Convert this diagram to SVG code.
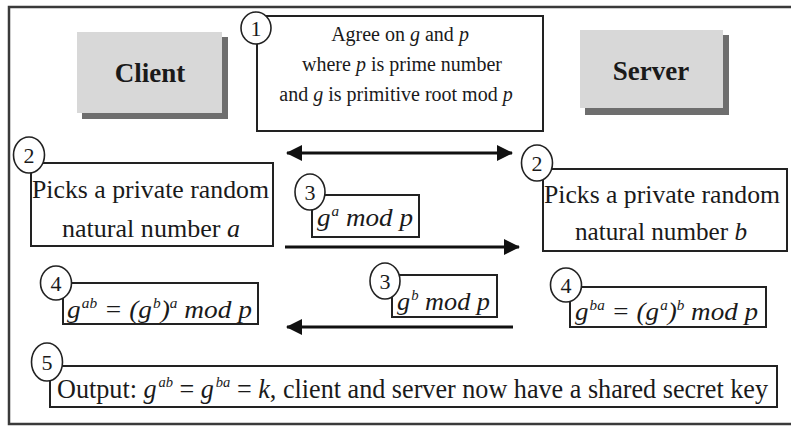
<svg xmlns="http://www.w3.org/2000/svg" width="791" height="427" viewBox="0 0 791 427">
<style>
.frame{fill:none;stroke:#3a3a3a;stroke-width:2.5}
.box{fill:#fff;stroke:#222;stroke-width:2}
.actor{fill:#d8d8d8}
.shadow{fill:#6e6e6e}
.num{fill:#fff;stroke:#222;stroke-width:1.6}
.t{font-family:"Liberation Serif","Times New Roman",serif;fill:#1a1a1a}
.lbl{font-size:27px;font-weight:bold;text-anchor:middle}
.n{font-size:22px;text-anchor:middle}
.c{font-size:20px;text-anchor:middle}
.m{font-size:25px}
.i{font-style:italic}
.arr{stroke:#111;stroke-width:3.2;fill:none}
</style>
<defs>
<marker id="ah" markerUnits="userSpaceOnUse" markerWidth="18" markerHeight="16" refX="15" refY="8" orient="auto-start-reverse">
<path d="M0,0 L16,8 L0,16 Z" fill="#111"/>
</marker>
</defs>
<rect class="frame" x="9" y="7" width="800" height="417"/>

<g id="client">
<rect class="shadow" x="82" y="37" width="146" height="82"/>
<rect class="actor" x="77" y="32" width="145" height="81"/>
<text class="t lbl" x="150" y="82">Client</text>
</g>

<g id="server">
<rect class="shadow" x="585" y="35" width="144" height="80"/>
<rect class="actor" x="580" y="30" width="143" height="78"/>
<text class="t lbl" x="651" y="80">Server</text>
</g>

<g id="step1">
<rect class="box" x="257" y="16" width="286" height="115"/>
<ellipse class="num" cx="256" cy="28" rx="15" ry="16"/>
<text class="t n" x="256" y="36">1</text>
<text class="t c" x="400" y="41">Agree on <tspan class="i">g</tspan> and <tspan class="i">p</tspan></text>
<text class="t c" x="402" y="71">where <tspan class="i">p</tspan> is prime number</text>
<text class="t c" x="396" y="101">and <tspan class="i">g</tspan> is primitive root mod <tspan class="i">p</tspan></text>
</g>

<g id="step2-client">
<rect class="box" x="31" y="163" width="242" height="83"/>
<ellipse class="num" cx="29" cy="155" rx="15.5" ry="18"/>
<text class="t n" x="29" y="163">2</text>
<text class="t m" x="32" y="198" textLength="237" lengthAdjust="spacingAndGlyphs">Picks a private random</text>
<text class="t m" x="62" y="237" textLength="178" lengthAdjust="spacingAndGlyphs">natural number <tspan class="i">a</tspan></text>
</g>

<g id="step2-server">
<rect class="box" x="543" y="169" width="244" height="82"/>
<ellipse class="num" cx="537" cy="163" rx="15.5" ry="18"/>
<text class="t n" x="537" y="171">2</text>
<text class="t m" x="544" y="203" textLength="236" lengthAdjust="spacingAndGlyphs">Picks a private random</text>
<text class="t m" x="575" y="240" textLength="172" lengthAdjust="spacingAndGlyphs">natural number <tspan class="i">b</tspan></text>
</g>

<g id="step3-client">
<rect class="box" x="312" y="195" width="107" height="42"/>
<ellipse class="num" cx="310" cy="192" rx="15" ry="18"/>
<text class="t n" x="310" y="200">3</text>
<text class="t m i" x="317" y="226" textLength="96" lengthAdjust="spacingAndGlyphs">g<tspan dx="1" dy="-10" style="font-size:14px">a</tspan><tspan dy="10"> mod p</tspan></text>
</g>

<g id="step3-server">
<rect class="box" x="392" y="275" width="105" height="42"/>
<ellipse class="num" cx="385" cy="281" rx="15" ry="18"/>
<text class="t n" x="385" y="289">3</text>
<text class="t m i" x="397" y="310" textLength="93" lengthAdjust="spacingAndGlyphs">g<tspan dx="1" dy="-10" style="font-size:14px">b</tspan><tspan dy="10"> mod p</tspan></text>
</g>

<g id="step4-client">
<rect class="box" x="63" y="283" width="195" height="41"/>
<ellipse class="num" cx="56" cy="283" rx="15.5" ry="17"/>
<text class="t n" x="56" y="291">4</text>
<text class="t m i" x="67" y="318" textLength="185" lengthAdjust="spacingAndGlyphs">g<tspan dx="1" dy="-10" style="font-size:14px">ab</tspan><tspan dy="10"> = (g</tspan><tspan dx="1" dy="-10" style="font-size:14px">b</tspan><tspan dy="10">)</tspan><tspan dy="-10" style="font-size:14px">a</tspan><tspan dy="10"> mod p</tspan></text>
</g>

<g id="step4-server">
<rect class="box" x="570" y="287" width="196" height="40"/>
<ellipse class="num" cx="566" cy="285" rx="15.5" ry="17"/>
<text class="t n" x="566" y="293">4</text>
<text class="t m i" x="575" y="320" textLength="183" lengthAdjust="spacingAndGlyphs">g<tspan dx="1" dy="-10" style="font-size:14px">ba</tspan><tspan dy="10"> = (g</tspan><tspan dx="1" dy="-10" style="font-size:14px">a</tspan><tspan dy="10">)</tspan><tspan dy="-10" style="font-size:14px">b</tspan><tspan dy="10"> mod p</tspan></text>
</g>

<g id="step5">
<rect class="box" x="50" y="366" width="727" height="41"/>
<ellipse class="num" cx="47" cy="362" rx="15.5" ry="19"/>
<text class="t n" x="47" y="370">5</text>
<text class="t m" x="57" y="398" textLength="711" lengthAdjust="spacingAndGlyphs" style="font-size:27px">Output: <tspan class="i">g</tspan><tspan class="i" dx="2" dy="-11" style="font-size:15px">ab</tspan><tspan dy="11"> = </tspan><tspan class="i">g</tspan><tspan class="i" dx="2" dy="-11" style="font-size:15px">ba</tspan><tspan dy="11"> = </tspan><tspan class="i">k</tspan>, client and server now have a shared secret key</text>
</g>

<g id="connectors">
<line class="arr" x1="287" y1="153" x2="512" y2="153" marker-start="url(#ah)" marker-end="url(#ah)"/>
<line class="arr" x1="285" y1="247" x2="519" y2="247" marker-end="url(#ah)"/>
<line class="arr" x1="513" y1="327" x2="287" y2="327" marker-end="url(#ah)"/>
</g>
</svg>
